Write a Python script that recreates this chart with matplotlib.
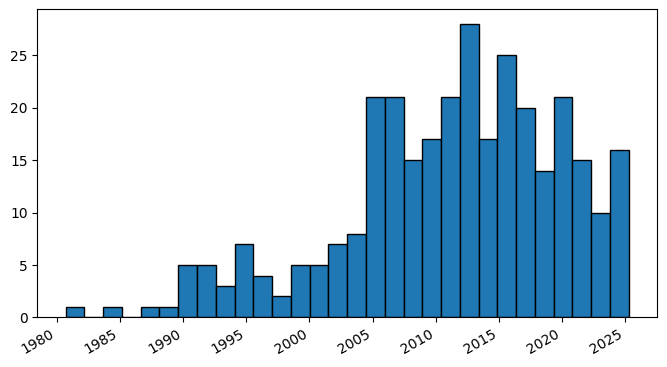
import numpy as np
import matplotlib.pyplot as plt

# bin range (decimal years) and counts per bin
year_start = 1980.69
year_end = 2025.29
counts = [1, 0, 1, 0, 1, 1, 5, 5, 3, 7, 4, 2, 5, 5, 7, 8, 21, 21, 15, 17,
          21, 28, 17, 25, 20, 14, 21, 15, 10, 16]
tick_years = [1980, 1985, 1990, 1995, 2000, 2005, 2010, 2015, 2020, 2025]

edges = np.linspace(year_start, year_end, len(counts) + 1)
centers = (edges[:-1] + edges[1:]) / 2

fig, ax = plt.subplots(figsize=(6.67, 3.67), dpi=100)
ax.hist(centers, bins=edges, weights=counts, edgecolor='black')
ax.set_xticks(tick_years)
ax.set_xticklabels([str(y) for y in tick_years])
fig.autofmt_xdate()
fig.subplots_adjust(left=0.056, right=0.985, top=0.975, bottom=0.135)
fig.savefig('out.png')
